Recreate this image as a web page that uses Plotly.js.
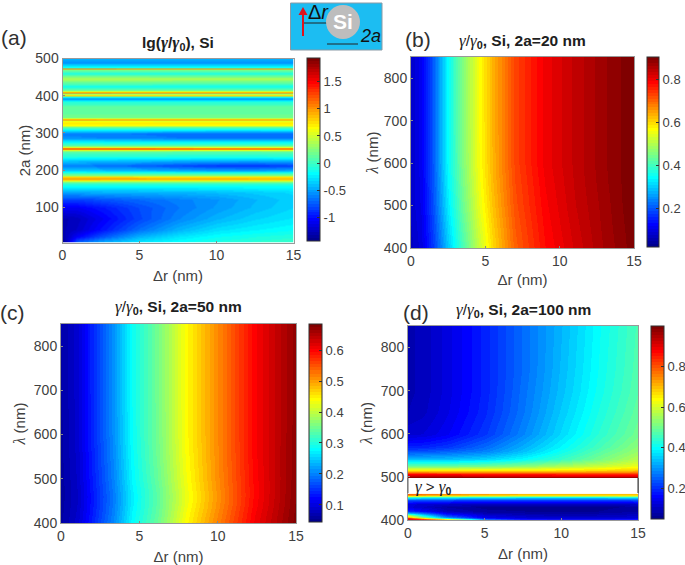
<!DOCTYPE html>
<html><head><meta charset="utf-8">
<script src="https://cdn.plot.ly/plotly-3.0.1.min.js"></script>
<style>html,body{margin:0;padding:0;background:#fff}</style>
</head><body><div id="chart" style="width:685px;height:565px"></div>
<script>
// ---- panel (a): lg(gamma/gamma0) vs shell distance and diameter
const aDr = [0, 1, 2.5, 5, 7.5, 10, 12.5, 15];
const aSize = [5,20,40,70,100,120,140,155,165,170,174,178,182,186,192,200,213,225,237,250,255,258,261,266,275,287,298,310,316,320,325,329,332,336,340,356,372,385,392,398,401,405,409,413,425,447,460,470,473,476,490,500];
const aZ = [
[-1.44,-.7,-.45,-.25,-.17,-.1,-.05,0],
[-1.32,-1.05,-.78,-.45,-.28,-.18,-.12,-.08],
[-1.3,-1.22,-1.0,-.68,-.45,-.3,-.23,-.18],
[-1.3,-1.25,-1.08,-.82,-.6,-.45,-.34,-.27],
[-1.08,-1.08,-.98,-.8,-.65,-.53,-.42,-.33],
[-.85,-.85,-.78,-.7,-.62,-.55,-.44,-.35],
[-.5,-.5,-.48,-.47,-.45,-.42,-.37,-.32],
[-.22,-.22,-.22,-.21,-.2,-.2,-.19,-.18],
[-.05,-.05,-.05,-.05,-.05,-.04,-.04,-.03],
[.3,.3,.3,.28,.28,.27,.27,.27],
[.85,.85,.83,.82,.8,.8,.78,.78],
[.97,.97,.95,.94,.92,.9,.88,.87],
[.75,.75,.75,.72,.72,.7,.7,.7],
[.3,.3,.3,.3,.3,.28,.28,.28],
[-.08,-.08,-.09,-.1,-.1,-.1,-.1,-.09],
[-.35,-.36,-.38,-.42,-.46,-.5,-.5,-.46],
[-.6,-.62,-.66,-.72,-.8,-.86,-.88,-.82],
[-.38,-.39,-.4,-.42,-.44,-.46,-.46,-.44],
[-.1,-.1,-.1,-.1,-.11,-.11,-.11,-.1],
[.1,.1,.1,.1,.09,.09,.09,.1],
[.7,.7,.7,.68,.68,.66,.66,.66],
[1.45,1.45,1.44,1.42,1.4,1.4,1.38,1.38],
[.7,.7,.7,.68,.68,.66,.66,.66],
[.1,.1,.1,.1,.1,.1,.1,.1],
[-.15,-.15,-.15,-.16,-.16,-.17,-.17,-.17],
[-.58,-.58,-.6,-.62,-.65,-.66,-.66,-.65],
[-.63,-.63,-.64,-.65,-.68,-.7,-.7,-.68],
[-.2,-.2,-.2,-.2,-.21,-.21,-.21,-.2],
[.2,.2,.2,.2,.18,.18,.18,.18],
[.62,.62,.62,.6,.6,.6,.6,.6],
[.72,.72,.72,.7,.7,.7,.7,.7],
[.7,.7,.7,.7,.68,.68,.68,.68],
[.55,.55,.55,.55,.54,.54,.54,.54],
[1.05,1.05,1.04,1.02,1.0,1.0,1.0,1.0],
[.2,.2,.2,.2,.2,.2,.2,.2],
[.12,.12,.12,.12,.12,.12,.12,.12],
[.1,.1,.1,.1,.1,.1,.1,.1],
[-.1,-.1,-.1,-.1,-.1,-.1,-.1,-.1],
[-.55,-.55,-.55,-.55,-.55,-.55,-.55,-.55],
[-.1,-.1,-.1,-.1,-.1,-.1,-.1,-.1],
[.8,.8,.8,.8,.78,.78,.78,.78],
[.3,.3,.3,.3,.3,.3,.3,.3],
[1.1,1.1,1.1,1.08,1.08,1.08,1.08,1.08],
[.2,.2,.2,.2,.2,.2,.2,.2],
[-.15,-.15,-.15,-.15,-.15,-.15,-.15,-.15],
[.4,.4,.4,.4,.38,.38,.38,.38],
[-.1,-.1,-.1,-.1,-.1,-.1,-.1,-.1],
[.2,.2,.2,.2,.2,.2,.2,.2],
[1.05,1.05,1.05,1.03,1.03,1.03,1.03,1.03],
[-.1,-.1,-.1,-.1,-.1,-.1,-.1,-.1],
[-.55,-.55,-.55,-.55,-.55,-.55,-.55,-.55],
[-.45,-.45,-.45,-.45,-.45,-.45,-.45,-.45]
];
const aTicks = [-1,-.5,0,.5,1,1.5];

// ---- panel (b): 2a = 20 nm
const bDr = [0,.7,1.5,2.5,3.5,4.5,5.5,7,9,11,13,15];
const bLam = [400,450,500,550,600,700,800,850];
const bZ = [
[.07,.095,.17,.30,.41,.51,.60,.705,.78,.825,.865,.90],
[.075,.10,.18,.315,.425,.525,.61,.712,.785,.83,.868,.902],
[.08,.105,.19,.33,.44,.54,.62,.72,.79,.835,.87,.905],
[.08,.108,.195,.34,.45,.548,.628,.725,.795,.838,.873,.905],
[.08,.11,.2,.348,.458,.553,.633,.73,.80,.84,.875,.905],
[.08,.11,.2,.35,.46,.555,.635,.73,.80,.84,.875,.905],
[.08,.11,.2,.35,.46,.555,.635,.73,.80,.84,.875,.905],
[.08,.11,.2,.35,.46,.555,.635,.73,.80,.84,.875,.905]
];
const bTicks = [.2,.4,.6,.8];

// ---- panel (c): 2a = 50 nm
const cDr = [0,1,1.85,3.3,4.5,6.1,8,9.9,12.3,15];
const cLam = [400,420,440,460,480,500,550,600,700,800,850];
const cZ = [
[.063,.09,.132,.205,.28,.345,.44,.515,.605,.68],
[.062,.087,.128,.20,.276,.34,.436,.51,.602,.678],
[.061,.085,.125,.197,.272,.337,.43,.505,.598,.676],
[.06,.084,.124,.196,.271,.336,.428,.503,.596,.675],
[.06,.085,.126,.198,.273,.338,.43,.505,.596,.674],
[.061,.086,.128,.201,.277,.342,.433,.507,.597,.673],
[.062,.088,.131,.205,.281,.347,.437,.509,.599,.672],
[.063,.089,.133,.208,.284,.349,.44,.51,.60,.671],
[.064,.09,.135,.21,.285,.35,.44,.51,.60,.67],
[.065,.09,.135,.21,.285,.35,.44,.51,.60,.67],
[.065,.09,.135,.21,.285,.35,.44,.51,.60,.67]
];
const cTicks = [.1,.2,.3,.4,.5,.6];

// ---- panel (d): 2a = 100 nm, two regions around the gamma > gamma0 gap
const dDr = [0,1,2.5,5,7.5,10,12.5,15];
const dLamLow = [400,402,405,408,411,416,422,430,437,446,451,453,456,459,460];
const dZLow = [
[.98,.94,.85,.32,.18,.16,.16,.17],
[.92,.84,.65,.25,.16,.15,.15,.16],
[.85,.66,.4,.18,.14,.13,.13,.14],
[.7,.5,.28,.14,.12,.11,.11,.12],
[.55,.38,.21,.12,.1,.09,.095,.105],
[.33,.26,.15,.09,.08,.07,.08,.09],
[.2,.16,.1,.07,.065,.06,.065,.08],
[.13,.11,.08,.06,.055,.055,.06,.07],
[.13,.12,.11,.1,.1,.1,.1,.11],
[.24,.24,.23,.22,.22,.22,.22,.23],
[.37,.36,.35,.34,.33,.33,.33,.34],
[.46,.45,.44,.43,.42,.42,.42,.43],
[.62,.6,.58,.56,.55,.55,.55,.56],
[.74,.72,.7,.68,.67,.66,.66,.66],
[.78,.76,.74,.72,.7,.69,.69,.69]
];
const dLamHigh = [500,503,506,512,516,526,542,560,570,600,650,700,750,850];
const dZHigh = [
[.98,.98,.98,.97,.96,.96,.96,.96],
[.93,.93,.93,.92,.91,.91,.9,.9],
[.87,.87,.87,.86,.86,.85,.85,.85],
[.75,.75,.74,.74,.74,.74,.74,.75],
[.65,.65,.65,.65,.65,.66,.67,.69],
[.5,.5,.5,.51,.53,.56,.59,.62],
[.34,.34,.34,.36,.4,.45,.51,.57],
[.23,.235,.25,.28,.34,.41,.48,.54],
[.19,.195,.21,.26,.325,.395,.465,.53],
[.12,.125,.15,.21,.285,.365,.44,.505],
[.095,.105,.135,.195,.27,.35,.425,.49],
[.09,.10,.13,.19,.265,.34,.415,.48],
[.09,.10,.13,.19,.26,.335,.41,.475],
[.09,.10,.13,.19,.26,.33,.405,.47]
];
const dTicks = [.2,.4,.6,.8];

const W = 685, H = 565;
const fx = p => p / W, fy = p => 1 - p / H;

// MATLAB jet, 64 flat levels
const jetAnchors = [[0,0,0,143],[.111,0,0,255],[.365,0,255,255],[.619,255,255,0],[.873,255,0,0],[1,128,0,0]];
function jetAt(t){
  for(let i=1;i<jetAnchors.length;i++){
    const a=jetAnchors[i-1], b=jetAnchors[i];
    if(t<=b[0]){ const f=(t-a[0])/(b[0]-a[0]);
      return 'rgb('+[1,2,3].map(k=>Math.round(a[k]+f*(b[k]-a[k]))).join(',')+')'; }
  }
  return 'rgb(128,0,0)';
}
const jet=[];
for(let i=0;i<64;i++){ const c=jetAt(i/63); jet.push([i/64,c]); jet.push([(i+1)/64,c]); }

const TXT='#404040', FONT='"Liberation Sans", Arial, sans-serif';
const G='<span style="font-family:\'Liberation Serif\';font-size:17px"><i>γ</i></span>';
const L='<span style="font-family:\'Liberation Serif\';font-size:16px"><i>λ</i></span>';

const panels=[
 {x:aDr,y:aSize,z:aZ,zr:[-1.44,1.94],tk:aTicks,px:[62.5,293.5],py:[58.5,242.5],cx:[307,320],cy:[58,241],yr:[5,500],yt:[100,200,300,400,500],yl:'2a (nm)',xs:8,ys:1},
 {x:bDr,y:bLam,z:bZ,zr:[.02,.905],tk:bTicks,px:[411,634],py:[57,248],cx:[647,659],cy:[57,247],yr:[400,850],yt:[400,500,600,700,800],yl:L+' (nm)',xs:6,ys:1},
 {x:cDr,y:cLam,z:cZ,zr:[.045,.684],tk:cTicks,px:[61,296],py:[324,523],cx:[309,322],cy:[324,522],yr:[400,850],yt:[400,500,600,700,800],yl:L+' (nm)',xs:8,ys:4},
 {x:dDr,y:dLamLow,z:dZLow,zr:[.05,1.0],tk:dTicks,px:[408,638],py:[326,520],cx:[651,664],cy:[326,519],yr:[400,850],yt:[400,500,600,700,800],yl:L+' (nm)',xs:8,ys:4}
];

const traces=[], layout={
  width:W,height:H,margin:{l:0,r:0,t:0,b:0,autoexpand:false},
  paper_bgcolor:'#fff',plot_bgcolor:'#fff',showlegend:false,
  font:{family:FONT,color:TXT,size:14},annotations:[],shapes:[]
};
panels.forEach((p,i)=>{
  const n=i===0?'':String(i+1);
  traces.push({type:'heatmap',x:p.x,y:p.y,z:p.z,xaxis:'x'+n,yaxis:'y'+n,zmin:p.zr[0],zmax:p.zr[1],
    colorscale:jet,zsmooth:'best',hoverinfo:'skip',
    colorbar:{x:fx(p.cx[0]),xanchor:'left',xpad:0,ypad:0,thickness:p.cx[1]-p.cx[0],thicknessmode:'pixels',
      lenmode:'fraction',len:(p.cy[1]-p.cy[0])/H,y:fy((p.cy[0]+p.cy[1])/2),yanchor:'middle',
      outlinecolor:'#303030',outlinewidth:1,tickvals:p.tk,ticktext:p.tk.map(String),ticks:'inside',ticklen:3,tickcolor:'#303030',tickwidth:1,
      tickfont:{family:FONT,size:13,color:TXT}}});
  const ax={domain:[fx(p.px[0]),fx(p.px[1])],range:[0,15],tickvals:[0,5,10,15],ticks:'inside',ticklen:2,tickcolor:'#888',
    showline:true,mirror:true,linecolor:'#999',linewidth:1,showgrid:false,zeroline:false,
    tickfont:{family:FONT,size:14,color:TXT},
    title:{text:'Δr (nm)',font:{family:FONT,size:15,color:TXT},standoff:p.xs},anchor:'y'+n};
  const ay={domain:[fy(p.py[1]),fy(p.py[0])],range:p.yr,tickvals:p.yt,ticks:'inside',ticklen:2,tickcolor:'#888',
    showline:true,mirror:true,linecolor:'#999',linewidth:1,showgrid:false,zeroline:false,
    tickfont:{family:FONT,size:14,color:TXT},
    title:{text:p.yl,font:{family:FONT,size:15,color:TXT},standoff:p.ys},anchor:'x'+n};
  layout['xaxis'+n]=ax; layout['yaxis'+n]=ay;
});
traces.push({type:'heatmap',x:dDr,y:dLamHigh,z:dZHigh,xaxis:'x4',yaxis:'y4',zmin:.05,zmax:1.0,colorscale:jet,zsmooth:'best',showscale:false,hoverinfo:'skip'});

function note(text,px,py,size,opt){
  layout.annotations.push(Object.assign({text,xref:'paper',yref:'paper',x:fx(px),y:fy(py),showarrow:false,
    xanchor:'center',yanchor:'middle',font:{family:FONT,size,color:'#202020'}},opt||{}));
}
// panel titles
note('<b>lg('+G+'/'+G+'<sub>0</sub>), Si</b>',178,43,15.5);
note(G+'/'+G+'<b><sub>0</sub>, Si, 2a=20 nm</b>',522,41,15.5);
note(G+'/'+G+'<b><sub>0</sub>, Si, 2a=50 nm</b>',178,307,15.5);
note(G+'/'+G+'<b><sub>0</sub>, Si, 2a=100 nm</b>',523,310,15.5);
// panel letters
[['(a)',14,38],['(b)',418,39],['(c)',12,312],['(d)',416,312]].forEach(l=>note(l[0],l[1],l[2],21,{font:{family:FONT,size:21,color:'#303030'}}));
// gap label in (d)
note(G+' > '+G+'<b><sub>0</sub></b>',433,487,15);
// inset sketch
const S=layout.shapes, pr={xref:'paper',yref:'paper'};
S.push(Object.assign({type:'rect',x0:fx(290.5),x1:fx(382),y0:fy(50),y1:fy(3),fillcolor:'#1cbdf2',line:{color:'#8a9aa5',width:1}},pr));
S.push(Object.assign({type:'line',x0:fx(302),x1:fx(330),y0:fy(23),y1:fy(23),line:{color:'#222',width:1}},pr));
S.push(Object.assign({type:'line',x0:fx(327),x1:fx(358),y0:fy(44),y1:fy(44),line:{color:'#222',width:1}},pr));
S.push(Object.assign({type:'circle',x0:fx(326),x1:fx(360),y0:fy(39),y1:fy(5),fillcolor:'#bdbdbd',line:{color:'#bdbdbd',width:0}},pr));
S.push(Object.assign({type:'line',x0:fx(303),x1:fx(303),y0:fy(36),y1:fy(12),line:{color:'#e0121c',width:2}},pr));
S.push(Object.assign({type:'path',path:'M '+fx(298.5)+' '+fy(15)+' L '+fx(303)+' '+fy(7)+' L '+fx(307.5)+' '+fy(15)+' Z',fillcolor:'#e0121c',line:{width:0}},pr));
// dark box edges beside the gap in (d)
S.push(Object.assign({type:'line',x0:fx(638),x1:fx(638),y0:fy(478),y1:fy(493),line:{color:'#333',width:1}},pr));
S.push(Object.assign({type:'line',x0:fx(408),x1:fx(408),y0:fy(478),y1:fy(493),line:{color:'#666',width:1}},pr));
note('Δ<i>r</i>',318,12,20,{font:{family:FONT,size:20,color:'#111'}});
note('<b>Si</b>',343,22,21,{font:{family:FONT,size:21,color:'#fff'}});
note('<i>2a</i>',370,36,18,{font:{family:FONT,size:18,color:'#111'}});

Plotly.newPlot('chart',traces,layout,{displayModeBar:false,staticPlot:true});
</script></body></html>
